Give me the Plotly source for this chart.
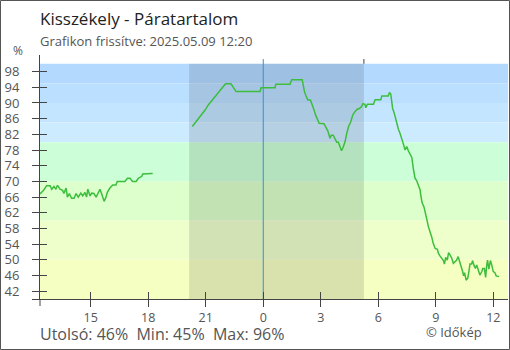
import plotly.graph_objects as go

# ---- data ----
times_a = ["12:21", "12:32", "12:42", "12:53", "12:58", "13:05", "13:11", "13:16", "13:24", "13:32",
           "13:36", "13:43", "13:47", "13:53", "14:00", "14:08", "14:14", "14:21", "14:29", "14:35",
           "14:42", "14:47", "14:51", "14:58", "15:03", "15:10", "15:17", "15:24", "15:29", "15:34",
           "15:42", "15:48", "15:52", "16:00", "16:09", "16:19", "16:23", "16:47", "16:55", "17:03",
           "17:11", "17:22", "17:29", "17:40", "17:43", "18:11", "18:14"]
hum_a = [66.8, 67.7, 68.9, 68.9, 68.0, 68.7, 68.0, 69.0, 68.0, 67.7,
         66.9, 68.3, 66.0, 66.9, 65.7, 65.7, 66.9, 66.0, 67.0, 66.3,
         67.2, 66.0, 68.0, 66.3, 67.0, 66.9, 66.0, 67.2, 68.0, 66.9,
         64.9, 66.0, 67.2, 68.3, 69.1, 69.1, 70.0, 70.0, 70.8, 70.8,
         70.0, 70.0, 70.8, 71.3, 71.9, 72.0, 72.0]

times_b1 = ["20:18", "20:26", "20:37", "20:47", "20:58", "21:08", "21:19", "21:31", "21:42", "21:52",
            "22:02", "22:19", "22:26", "22:35", "23:50", "23:53"]
hum_b1 = [84.0, 84.8, 85.8, 86.9, 88.2, 89.5, 90.6, 91.8, 92.9, 94.0,
          94.9, 94.9, 94.0, 92.9, 92.9, 93.9]

times_b2 = ["00:37", "00:39", "01:24", "01:29", "02:02", "02:05", "02:09", "02:14", "02:19", "02:28",
            "02:34", "02:39", "02:44", "02:50", "02:55", "03:10", "03:15", "03:22", "03:29", "03:33",
            "03:39", "03:44", "03:50", "03:55", "04:00", "04:05", "04:10", "04:16", "04:21", "04:27",
            "04:34", "04:40", "04:47", "04:54", "05:01", "05:08", "05:11", "05:18", "05:21", "05:26",
            "05:45", "05:50", "06:08", "06:11", "06:31", "06:35", "06:39", "06:42", "06:45", "06:50",
            "06:55", "06:58", "07:03", "07:08", "07:13", "07:18", "07:24", "07:29", "07:34", "07:39",
            "07:45", "07:50", "07:55", "08:00", "08:05", "08:11", "08:13", "08:17", "08:23", "08:27",
            "08:32", "08:37", "08:42", "08:47", "08:52", "08:58", "09:05", "09:08", "09:13", "09:19",
            "09:24", "09:27", "09:31", "09:36", "09:40", "09:45", "09:50", "09:55", "10:00", "10:05",
            "10:10", "10:14", "10:19", "10:24", "10:27", "10:30", "10:35", "10:40", "10:44", "10:47",
            "10:52", "10:55", "10:59", "11:04", "11:08", "11:13", "11:18", "11:24", "11:27", "11:32",
            "11:36", "11:39", "11:42", "11:46", "11:51", "11:55", "12:00", "12:05", "12:09", "12:18"]
hum_b2 = [93.9, 94.8, 94.8, 95.9, 95.9, 94.6, 92.9, 91.8, 90.8, 90.7,
          89.5, 88.2, 86.9, 85.8, 84.8, 84.7, 83.8, 82.9, 81.0, 81.8,
          81.8, 81.0, 80.0, 80.0, 78.7, 77.8, 78.7, 80.1, 82.1, 84.0,
          85.2, 86.9, 87.8, 88.4, 88.6, 89.1, 89.8, 89.7, 88.8, 89.7,
          89.7, 90.8, 90.8, 91.8, 91.8, 92.7, 92.3, 90.3, 88.6, 87.4,
          85.7, 84.4, 83.3, 82.3, 80.6, 79.7, 78.0, 78.9, 77.8, 77.0,
          76.1, 73.1, 70.8, 70.2, 69.1, 67.8, 66.5, 64.6, 63.5, 62.3,
          60.3, 58.4, 57.4, 55.9, 54.2, 52.9, 52.7, 51.7, 51.0, 50.4,
          49.8, 48.9, 50.6, 49.9, 51.8, 51.2, 50.4, 49.1, 49.5, 49.9,
          50.8, 49.8, 48.7, 47.0, 45.9, 46.7, 44.8, 45.3, 47.2, 48.9,
          48.9, 49.8, 48.7, 47.8, 48.7, 47.4, 46.1, 47.0, 47.8, 47.8,
          45.5, 48.4, 49.9, 47.6, 49.8, 48.7, 47.0, 46.7, 45.9, 45.7]

day1 = "2025-05-08"
day2 = "2025-05-09"

band_lo = [95, 90, 85, 80, 70, 60, 50, 40]
band_hi = [100, 95, 90, 85, 80, 70, 60, 50]
band_colors = ["#b3d9ff", "#bbdfff", "#c3e5ff", "#cdebff", "#ccffd8", "#ddffcc", "#eeffcc", "#f5ffc2"]

night_start = "2025-05-08 20:08"
night_end = "2025-05-09 05:15"
midnight = "2025-05-09 00:00"

x_range = ["2025-05-08 12:21:18", "2025-05-09 12:46"]
y_range = [40, 102.24]

x_tickvals = ["2025-05-08 15:00", "2025-05-08 18:00", "2025-05-08 21:00", "2025-05-09 00:00",
              "2025-05-09 03:00", "2025-05-09 06:00", "2025-05-09 09:00", "2025-05-09 12:00"]
x_ticktext = ["15", "18", "21", "0", "3", "6", "9", "12"]
y_tickvals = [40, 42, 46, 50, 54, 58, 62, 66, 70, 74, 78, 82, 86, 90, 94, 98]
y_ticktext = ["", "42", "46", "50", "54", "58", "62", "66", "70", "74", "78", "82", "86", "90", "94", "98"]

title = "Kisszékely - Páratartalom"
subtitle = "Grafikon frissítve: 2025.05.09 12:20"
stats = "Utolsó: 46%  Min: 45%  Max: 96%"
credit = "© Időkép"
unit = "%"

# ---- build ----
xs = [f"{day1} {t}" for t in times_a] + [None] + [f"{day1} {t}" for t in times_b1] + [f"{day2} {t}" for t in times_b2]
ys = hum_a + [None] + hum_b1 + hum_b2

FONT = "Open Sans"
AX = "#444444"
TXT = "#555555"

fig = go.Figure()
fig.add_trace(go.Scatter(x=xs, y=ys, mode="lines", connectgaps=False,
                         line=dict(color="#3cbe3c", width=1.5), hoverinfo="skip"))
# dummy trace to activate overlay axes (inside tick halves)
fig.add_trace(go.Scatter(x=[x_range[0]], y=[y_range[0]], xaxis="x2", yaxis="y2", mode="markers",
                         marker=dict(opacity=0), hoverinfo="skip", showlegend=False))

shapes = []
for lo, hi, c in zip(band_lo, band_hi, band_colors):
    shapes.append(dict(type="rect", xref="paper", x0=0, x1=1, yref="y", y0=lo, y1=hi,
                       fillcolor=c, line=dict(width=0), layer="below"))
shapes.append(dict(type="rect", xref="x", x0=night_start, x1=night_end, yref="y", y0=40, y1=100,
                   fillcolor="rgba(0,0,0,0.115)", line=dict(width=0), layer="below"))
shapes.append(dict(type="line", xref="x", x0=midnight, x1=midnight, yref="y", y0=40, y1=101.2,
                   line=dict(color="#3a8fd0", width=1), layer="below"))
shapes.append(dict(type="line", xref="x", x0=night_end, x1=night_end, yref="y", y0=100, y1=101.2,
                   line=dict(color=AX, width=1), layer="above"))
# y axis line extension below x axis
shapes.append(dict(type="line", xref="paper", x0=0, x1=0, yref="paper", y0=0, y1=-7 / 244,
                   line=dict(color=AX, width=1)))
# outer frame
shapes.append(dict(type="rect", xref="paper", yref="paper",
                   x0=(0.5 - 40) / 468, x1=(509.5 - 40) / 468,
                   y0=(299 - 349.5) / 244, y1=(299 - 0.5) / 244,
                   line=dict(color="#555555", width=1), fillcolor="rgba(0,0,0,0)"))


def px(x):
    return (x - 40) / 468


def py(y):
    return (299 - y) / 244


annotations = [
    dict(text=title, x=px(39), y=py(18.5), xanchor="left", yanchor="middle",
         font=dict(family=FONT, size=17, color="#222222")),
    dict(text=subtitle, x=px(39), y=py(40.5), xanchor="left", yanchor="middle",
         font=dict(family=FONT, size=13, color=TXT)),
    dict(text=unit, x=px(17.5), y=py(51), xanchor="center", yanchor="middle",
         font=dict(family=FONT, size=12, color=TXT)),
    dict(text=stats, x=px(39), y=py(334), xanchor="left", yanchor="middle",
         font=dict(family=FONT, size=16, color=TXT)),
    dict(text=credit, x=px(453.5), y=py(331.5), xanchor="center", yanchor="middle",
         font=dict(family=FONT, size=13, color=TXT)),
]
for a in annotations:
    a.update(xref="paper", yref="paper", showarrow=False, borderpad=0)

fig.update_layout(
    width=510, height=350,
    margin=dict(l=40, r=2, t=55, b=51),
    paper_bgcolor="white", plot_bgcolor="white",
    showlegend=False, hovermode=False,
    font=dict(family=FONT, size=13, color=TXT),
    shapes=shapes, annotations=annotations,
    xaxis=dict(type="date", range=x_range, tickvals=x_tickvals, ticktext=x_ticktext,
               showgrid=False, zeroline=False, showline=True, linecolor=AX, linewidth=1,
               ticks="outside", ticklen=7, tickcolor=AX, tickwidth=1,
               tickfont=dict(family=FONT, size=12.5, color=TXT), ticklabelstandoff=0),
    yaxis=dict(range=y_range, tickvals=y_tickvals, ticktext=y_ticktext,
               showgrid=False, zeroline=False, showline=True, linecolor=AX, linewidth=1,
               ticks="outside", ticklen=7, tickcolor=AX, tickwidth=1,
               tickfont=dict(family=FONT, size=13, color=TXT), ticklabelstandoff=10),
    xaxis2=dict(type="date", range=x_range, overlaying="x", side="bottom", tickvals=x_tickvals,
                showticklabels=False, showgrid=False, zeroline=False, showline=False,
                ticks="inside", ticklen=7, tickcolor=AX, tickwidth=1),
    yaxis2=dict(range=y_range, overlaying="y", side="left", tickvals=y_tickvals,
                showticklabels=False, showgrid=False, zeroline=False, showline=False,
                ticks="inside", ticklen=7, tickcolor=AX, tickwidth=1),
)

fig.write_html("out.html")
